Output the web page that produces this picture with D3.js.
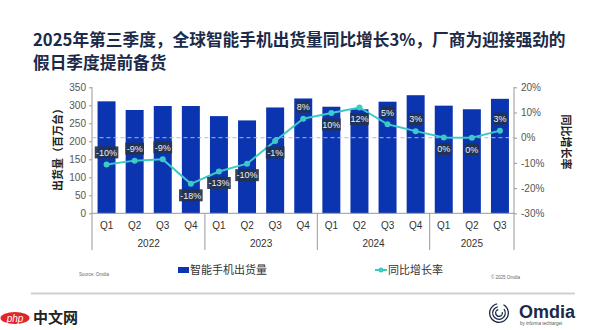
<!DOCTYPE html>
<html>
<head>
<meta charset="utf-8">
<script src="https://cdn.jsdelivr.net/npm/d3@7"></script>
<style>
  body { margin: 0; background: #fff; }
  svg { display: block; }
  text { font-family: "Liberation Sans", Arial, "Noto Sans CJK SC", sans-serif; }
  .cjk { font-family: "Noto Sans CJK SC", sans-serif; }
</style>
</head>
<body>
<svg id="chart" width="600" height="330"></svg>
<script>
// chart data
var titleLines = ["2025年第三季度，全球智能手机出货量同比增长3%，厂商为迎接强劲的", "假日季度提前备货"];
var years = ["2022", "2023", "2024", "2025"];
var quarters = ["Q1", "Q2", "Q3", "Q4", "Q1", "Q2", "Q3", "Q4", "Q1", "Q2", "Q3", "Q4", "Q1", "Q2", "Q3"];
var yearOf = ["2022", "2022", "2022", "2022", "2023", "2023", "2023", "2023", "2024", "2024", "2024", "2024", "2025", "2025", "2025"];
var shipments = [311, 287, 298, 298, 270, 258, 294, 319, 296, 289, 310, 328, 299, 289, 318];
var growth = [-10.6, -9.1, -8.6, -18.3, -13.4, -10.3, -1.3, 7.5, 9.8, 12, 5.3, 2.6, 0.1, 0, 2.8];
var growthLabels = ["-10%", "-9%", "-9%", "-18%", "-13%", "-10%", "-1%", "8%", "10%", "12%", "5%", "3%", "0%", "0%", "3%"];
var labelSide = ["up", "up", "up", "down", "down", "down", "down", "up", "down", "down", "up", "up", "down", "down", "up"];
var leftTicks = [0, 50, 100, 150, 200, 250, 300, 350];
var rightTicks = [-30, -20, -10, 0, 10, 20];

var BAR = "#0a34b0", LINE = "#3ccac4", NAVY = "#1b2a48", GREY = "#555";

var svg = d3.select("#chart");
var keys = d3.range(quarters.length);

var x = d3.scaleBand().domain(keys).range([92.5, 514]).paddingInner(0.36).paddingOuter(0.18);
var yL = d3.scaleLinear().domain([0, 350]).range([213.3, 87.3]);
var yR = d3.scaleLinear().domain([-30, 20]).range([213.3, 87.3]);

// title
svg.append("g").selectAll("text").data(titleLines).enter().append("text")
    .attr("class", "cjk")
    .attr("x", 33).attr("y", (d, i) => 45.5 + i * 23)
    .attr("font-size", 16.7).attr("font-weight", "bold").attr("fill", NAVY)
    .text(d => d);

// bars
svg.append("g").selectAll("rect").data(keys).enter().append("rect")
    .attr("x", i => x(i)).attr("width", x.bandwidth())
    .attr("y", i => yL(shipments[i])).attr("height", i => yL(0) - yL(shipments[i]))
    .attr("fill", BAR);

// zero line for growth
svg.append("line")
    .attr("x1", 92.5).attr("x2", 514).attr("y1", yR(0)).attr("y2", yR(0))
    .attr("stroke", "#bbb").attr("stroke-width", 1).attr("stroke-dasharray", "4,3");

// left axis
var gl = svg.append("g").attr("transform", "translate(92,0)")
    .call(d3.axisLeft(yL).tickValues(leftTicks).tickSize(3).tickPadding(3));
gl.select(".domain").remove();
gl.selectAll("line").attr("stroke", "#999");
gl.selectAll("text").attr("font-size", 10).attr("fill", GREY)
    .style("font-family", "'Liberation Sans', Arial, sans-serif");
svg.append("line").attr("x1", 92).attr("x2", 92).attr("y1", 87).attr("y2", 250)
    .attr("stroke", "#999").attr("stroke-width", 1);

// right axis
var gr = svg.append("g").attr("transform", "translate(514,0)")
    .call(d3.axisRight(yR).tickValues(rightTicks).tickSize(3).tickPadding(4).tickFormat(d => d + "%"));
gr.select(".domain").remove();
gr.selectAll("line").attr("stroke", "#999");
gr.selectAll("text").attr("font-size", 10).attr("fill", GREY)
    .style("font-family", "'Liberation Sans', Arial, sans-serif");
svg.append("line").attr("x1", 514).attr("x2", 514).attr("y1", 87).attr("y2", 250)
    .attr("stroke", "#999").attr("stroke-width", 1);

// x baseline
svg.append("line").attr("x1", 92).attr("x2", 514).attr("y1", yL(0)).attr("y2", yL(0))
    .attr("stroke", "#999");

// quarter labels
svg.append("g").selectAll("text").data(keys).enter().append("text")
    .attr("x", i => x(i) + x.bandwidth() / 2).attr("y", 229)
    .attr("text-anchor", "middle").attr("font-size", 10).attr("fill", "#333")
    .text(i => quarters[i]);

// year groups
var groups = years.map(function (yr) {
    var idx = keys.filter(i => yearOf[i] === yr);
    var x0 = x(idx[0]) - x.step() * x.paddingInner() / 2;
    var x1 = x(idx[idx.length - 1]) + x.bandwidth() + x.step() * x.paddingInner() / 2;
    return { year: yr, x0: x0, x1: x1 };
});
svg.append("g").selectAll("line").data(groups.slice(1)).enter().append("line")
    .attr("x1", d => d.x0).attr("x2", d => d.x0).attr("y1", yL(0)).attr("y2", 250)
    .attr("stroke", "#999");
svg.append("g").selectAll("text").data(groups).enter().append("text")
    .attr("x", d => (Math.max(d.x0, 92.5) + Math.min(d.x1, 514)) / 2).attr("y", 247)
    .attr("text-anchor", "middle").attr("font-size", 10).attr("fill", "#333")
    .text(d => d.year);

// axis titles
svg.append("text").attr("class", "cjk")
    .attr("transform", "translate(62,147) rotate(-90)")
    .attr("text-anchor", "middle").attr("font-size", 11).attr("font-weight", "bold").attr("fill", "#222")
    .text("出货量（百万台）");
svg.append("text").attr("class", "cjk")
    .attr("transform", "translate(562,142) rotate(90)")
    .attr("text-anchor", "middle").attr("font-size", 11).attr("font-weight", "bold").attr("fill", "#222")
    .text("同比增长率");

// growth line
var line = d3.line().x(i => x(i) + x.bandwidth() / 2).y(i => yR(growth[i]));
svg.append("path").datum(keys).attr("d", line)
    .attr("fill", "none").attr("stroke", LINE).attr("stroke-width", 2);
svg.append("g").selectAll("circle").data(keys).enter().append("circle")
    .attr("cx", i => x(i) + x.bandwidth() / 2).attr("cy", i => yR(growth[i]))
    .attr("r", 3).attr("fill", LINE);

// data labels
var lab = svg.append("g").selectAll("g").data(keys).enter().append("g")
    .attr("transform", i => "translate(" + (x(i) + x.bandwidth() / 2) + "," +
        (yR(growth[i]) + (labelSide[i] === "up" ? -12 : 11.5)) + ")");
lab.append("rect")
    .attr("x", i => -(growthLabels[i].length * 4.9 + 4) / 2).attr("y", -6)
    .attr("width", i => growthLabels[i].length * 4.9 + 4).attr("height", 12)
    .attr("fill", "#24324f").attr("opacity", 0.92);
lab.append("text")
    .attr("y", 3.3).attr("text-anchor", "middle").attr("font-size", 9).attr("fill", "#eef0f4")
    .text(i => growthLabels[i]);

// legend
svg.append("rect").attr("x", 178).attr("y", 267).attr("width", 11).attr("height", 6).attr("fill", BAR);
svg.append("text").attr("class", "cjk").attr("x", 190).attr("y", 274)
    .attr("font-size", 11).attr("fill", "#333").text("智能手机出货量");
svg.append("line").attr("x1", 375).attr("x2", 387).attr("y1", 270).attr("y2", 270)
    .attr("stroke", LINE).attr("stroke-width", 2);
svg.append("circle").attr("cx", 381).attr("cy", 270).attr("r", 2.5).attr("fill", LINE);
svg.append("text").attr("class", "cjk").attr("x", 388).attr("y", 274)
    .attr("font-size", 11).attr("fill", "#333").text("同比增长率");

// footer notes
svg.append("text").attr("x", 79).attr("y", 276).attr("font-size", 4.5).attr("fill", "#666").text("Source: Omdia");
svg.append("text").attr("x", 491).attr("y", 279).attr("font-size", 4.5).attr("fill", "#666").text("© 2025 Omdia");
svg.append("line").attr("x1", 31).attr("x2", 575).attr("y1", 293.5).attr("y2", 293.5)
    .attr("stroke", "#d0d0d0").attr("stroke-width", 2);

// Omdia logo
var logo = svg.append("g").attr("transform", "translate(499,313)");
[10, 7, 4].forEach(function (r, k) {
    logo.append("path")
        .attr("d", d3.arc().innerRadius(r - 1.3).outerRadius(r).startAngle(0.5 + k * 0.4).endAngle(2 * Math.PI - 0.2)())
        .attr("fill", NAVY);
});
svg.append("text").attr("x", 519).attr("y", 318).attr("font-size", 18).attr("font-weight", "bold")
    .attr("fill", NAVY).text("Omdia");
svg.append("text").attr("x", 520).attr("y", 324.5).attr("font-size", 4.5).attr("fill", "#555")
    .text("by informa techtarget");

// watermark
svg.append("ellipse").attr("cx", 15).attr("cy", 318).attr("rx", 14.5).attr("ry", 6).attr("fill", "#e0262b");
svg.append("text").attr("x", 15).attr("y", 321.5).attr("text-anchor", "middle").attr("font-size", 10)
    .attr("font-style", "italic").attr("fill", "#fff").text("php");
svg.append("text").attr("class", "cjk").attr("x", 33).attr("y", 323).attr("font-size", 15)
    .attr("font-weight", "bold").attr("fill", "#222").text("中文网");
</script>
</body>
</html>
